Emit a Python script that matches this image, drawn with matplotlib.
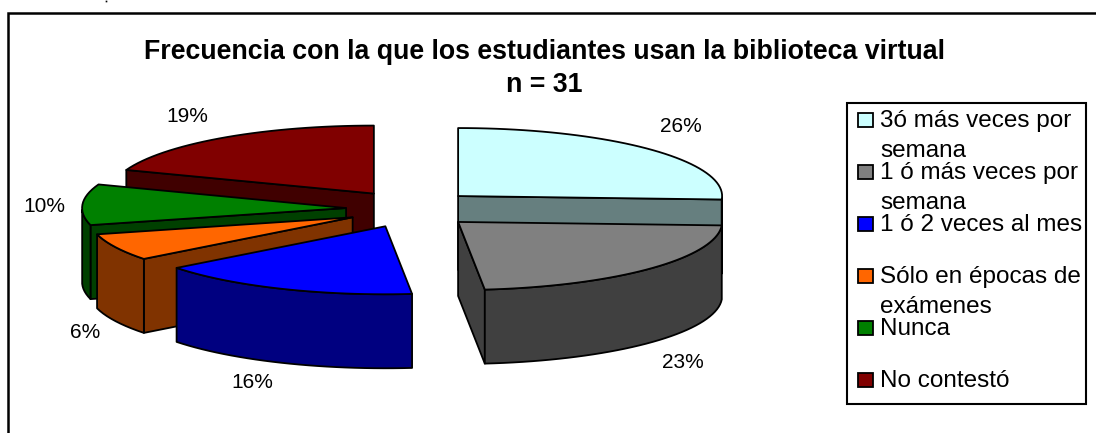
import numpy as np
import matplotlib
matplotlib.use('Agg')
import matplotlib.pyplot as plt
from matplotlib.patches import Polygon, Rectangle

plt.rcParams['font.family'] = ['Liberation Sans', 'DejaVu Sans']

# respuestas, n = 31
labels = ['3ó más veces por\nsemana', '1 ó más veces por\nsemana', '1 ó 2 veces al mes',
          'Sólo en épocas de\nexámenes', 'Nunca', 'No contestó']
counts = [8, 7, 5, 2, 3, 6]
colors = ['#CCFFFF', '#808080', '#0000FF', '#FF6600', '#008000', '#800000']
sides = ['#667F7F', '#404040', '#000080', '#803300', '#004000', '#400000']
title = 'Frecuencia con la que los estudiantes usan la biblioteca virtual\nn = 31'

# layout, in pixels
cx, cy = 411, 209
rx, ry = 264, 68
depth = 74
ex, ey = 65, 18.8
label_pos = [(681, 127), (683, 362), (252, 382), (85, 333), (44, 206), (187, 117)]
draw_order = [5, 0, 4, 3, 2, 1]

fig = plt.figure(figsize=(10.96, 4.33), dpi=100)
ax = fig.add_axes([0, 0, 1, 1])
ax.set_xlim(0, 1096)
ax.set_ylim(433, 0)
ax.axis('off')

fracs = np.array(counts) / sum(counts)
starts = 90 - 360 * np.concatenate(([0], np.cumsum(fracs)[:-1]))
ends = starts - 360 * fracs


def rim(a, x0, y0):
    r = np.radians(a)
    return np.column_stack((x0 + rx * np.cos(r), y0 - ry * np.sin(r)))


def face(pts, color):
    ax.add_patch(Polygon(pts, closed=True, fc=color, ec='black', lw=1.3, joinstyle='round'))


def draw_slice(i):
    mid = np.radians((starts[i] + ends[i]) / 2)
    x0 = cx + ex * np.cos(mid)
    y0 = cy - ey * np.sin(mid)
    angles = np.linspace(starts[i], ends[i], max(3, int(abs(starts[i] - ends[i]) / 2)))
    arc = rim(angles, x0, y0)
    down = np.array([0, depth])
    apex = np.array([x0, y0])
    # cut faces, only those turned to the viewer
    if np.cos(np.radians(starts[i])) < -1e-6:
        face([apex, arc[0], arc[0] + down, apex + down], sides[i])
    if np.cos(np.radians(ends[i])) > 1e-6:
        face([apex, arc[-1], arc[-1] + down, apex + down], sides[i])
    # outer wall
    front = np.sin(np.radians(angles)) <= 0
    if front.sum() > 1:
        wall = arc[front]
        face(np.vstack((wall, wall[::-1] + down)), sides[i])
    face(np.vstack(([apex], arc)), colors[i])


for i in draw_order:
    draw_slice(i)

# etiquetas de porcentaje
for i, c in enumerate(counts):
    ax.text(label_pos[i][0], label_pos[i][1], '%.0f%%' % (100 * c / sum(counts)),
            fontsize=15, ha='center', va='center')

ax.text(544.5, 92, title, fontsize=19.3, fontweight='bold', ha='center', va='baseline', linespacing=1.36)

# leyenda
ax.add_patch(Rectangle((847, 103), 239, 301, fc='white', ec='black', lw=1.5))
for i, lab in enumerate(labels):
    yc = 120 + 52 * i
    ax.add_patch(Rectangle((858, yc - 7), 15, 14, fc=colors[i], ec='black', lw=1.3))
    for j, line in enumerate(lab.split('\n')):
        ax.text(880, yc + 7 + 30 * j, line, fontsize=17.5, ha='left', va='baseline')

# marco del grafico, cortado a la derecha y abajo
ax.plot([7.5, 7.5, 1096], [433, 12.5, 12.5], color='black', lw=1.8, solid_joinstyle='miter')
ax.plot([105.5], [0.5], 's', color='black', ms=1.2, mew=0)

fig.savefig('out.png', dpi=100)
